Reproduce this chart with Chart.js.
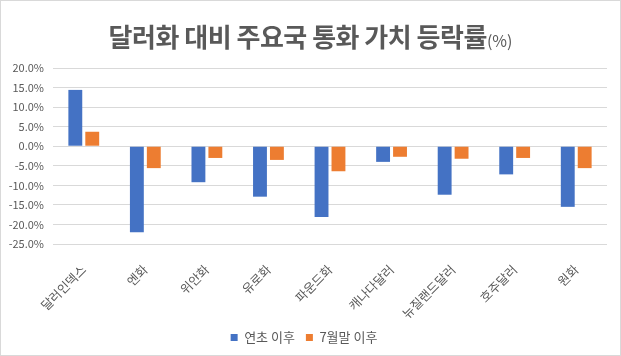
<!DOCTYPE html>
<html><head><meta charset="utf-8">
<script src="https://cdn.jsdelivr.net/npm/chart.js@4"></script>
<style>
html,body{margin:0;padding:0;background:#fff;}
#wrap{position:relative;width:619px;height:354px;border:1px solid #d9d9d9;overflow:hidden;}
#title{position:absolute;left:0;top:16px;width:619px;text-align:center;font-family:"Noto Sans CJK KR";font-weight:bold;font-size:26px;color:#595959;letter-spacing:-0.5px;white-space:nowrap;}
#title span{font-weight:normal;font-size:16px;letter-spacing:0;}
canvas{position:absolute;left:0;top:0;}
</style></head><body>
<div id="wrap">
<canvas id="c" width="619" height="354"></canvas>
<div id="title">달러화 대비 주요국 통화 가치 등락률<span>(%)</span></div>
</div>
<script>
const categories = ["달러인덱스","엔화","위안화","유로화","파운드화","캐나다달러","뉴질랜드달러","호주달러","원화"];
const sinceNewYear = [14.4,-22.0,-9.2,-12.9,-18.1,-4.0,-12.4,-7.2,-15.5];
const sinceEndJuly = [3.7,-5.6,-3.0,-3.5,-6.4,-2.7,-3.2,-3.0,-5.6];
const seriesNames = ["연초 이후","7월말 이후"];
const yTicks = [-25,-20,-15,-10,-5,0,5,10,15,20];

const font = "'Noto Sans CJK KR'";
new Chart(document.getElementById('c'), {
  type: 'bar',
  data: {
    labels: categories,
    datasets: [
      {label: seriesNames[0], data: sinceNewYear, backgroundColor: '#4472C4', barPercentage: 0.82, categoryPercentage: 0.55},
      {label: seriesNames[1], data: sinceEndJuly, backgroundColor: '#ED7D31', barPercentage: 0.82, categoryPercentage: 0.55}
    ]
  },
  options: {
    responsive: false,
    animation: false,
    layout: {padding: {top: 67, right: 13, left: 0, bottom: 1}},
    plugins: {
      title: {display: false},
      tooltip: {enabled: false},
      legend: {
        position: 'bottom',
        labels: {boxWidth: 7, boxHeight: 7, color: '#595959', font: {family: font, size: 13}, padding: 11}
      }
    },
    scales: {
      x: {
        grid: {display: false},
        border: {display: false},
        ticks: {color: '#595959', font: {family: font, size: 12.5}, minRotation: 45, maxRotation: 45, padding: 10},
        afterFit: s => { s.height = 76; }
      },
      y: {
        min: yTicks[0], max: yTicks[yTicks.length-1],
        afterBuildTicks: s => { s.ticks = yTicks.map(v => ({value: v})); },
        grid: {color: '#d9d9d9', drawTicks: false},
        border: {display: false},
        ticks: {color: '#595959', font: {family: font, size: 11}, padding: 9, callback: v => v.toFixed(1) + '%'},
        afterFit: s => { s.width = 52; }
      }
    }
  }
});
</script>
</body></html>
